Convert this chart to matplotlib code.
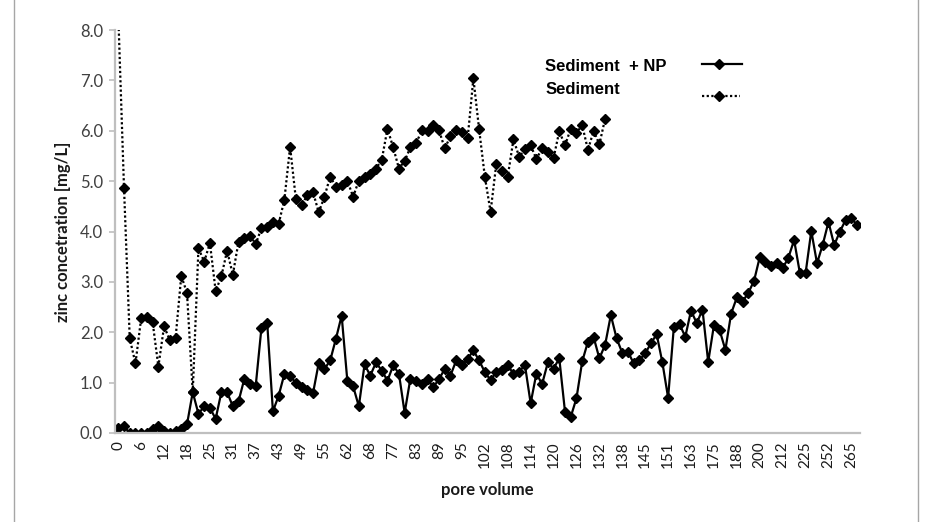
import matplotlib
matplotlib.use("Agg")
import matplotlib.pyplot as plt
from matplotlib.lines import Line2D
import numpy as np

# pore volume labels shown on the axis (every 4th sample)
pv_labels = ["0", "6", "12", "18", "25", "31", "37", "43", "49", "55", "62", "68",
             "77", "83", "89", "95", "102", "108", "114", "120", "126", "132", "138",
             "145", "151", "163", "175", "188", "200", "212", "225", "252", "265"]

# zinc concentration [mg/L], Sediment + NP
sed_np = [0.10, 0.13, 0.00, 0.00, 0.00, 0.00, 0.07, 0.13, 0.03, 0.00, 0.03, 0.08, 0.17,
          0.81, 0.38, 0.53, 0.50, 0.28, 0.81, 0.81, 0.53, 0.63, 1.07, 0.98, 0.94,
          2.09, 2.19, 0.43, 0.74, 1.17, 1.14, 0.99, 0.91, 0.86, 0.79,
          1.39, 1.27, 1.44, 1.87, 2.33, 1.03, 0.93, 0.53, 1.36, 1.14, 1.40, 1.24, 1.04, 1.34, 1.18,
          0.40, 1.08, 1.03, 0.97, 1.07, 0.91, 1.07, 1.27, 1.14, 1.44, 1.34, 1.47, 1.64,
          1.44, 1.21, 1.05, 1.21, 1.25, 1.35,
          1.17, 1.22, 1.35, 0.59, 1.18, 0.97, 1.40, 1.28, 1.48, 0.42, 0.32, 0.69, 1.42,
          1.81, 1.90, 1.48, 1.75, 2.34, 1.88, 1.59, 1.61, 1.38, 1.45, 1.58, 1.78, 1.96,
          1.40, 0.70, 2.10, 2.16, 1.91, 2.43, 2.18, 2.45, 1.41, 2.14, 2.04, 1.65, 2.37,
          2.69, 2.61, 2.78, 3.02, 3.49, 3.40, 3.31, 3.38, 3.27, 3.48, 3.83, 3.18, 3.17,
          4.01, 3.37, 3.74, 4.19, 3.73, 4.00, 4.23, 4.26, 4.13]

# zinc concentration [mg/L], Sediment only
sed = [8.3, 4.87, 1.88, 1.38, 2.28, 2.30, 2.20, 1.32, 2.12, 1.84, 1.88, 3.12, 2.78,
       0.81, 3.67, 3.40, 3.77, 2.82, 3.11, 3.62, 3.14,
       3.80, 3.87, 3.92, 3.75, 4.07, 4.08, 4.18, 4.15, 4.63, 5.68, 4.65, 4.52, 4.72, 4.78, 4.38,
       4.69, 5.09, 4.89, 4.92, 5.01, 4.69, 5.01, 5.09, 5.14, 5.25,
       5.42, 6.04, 5.67, 5.25, 5.40, 5.67, 5.75, 6.01, 5.99, 6.12,
       6.01, 5.65, 5.89, 6.01, 5.98, 5.85, 7.04, 6.03, 5.09, 4.39,
       5.34, 5.20, 5.09, 5.83, 5.48, 5.63, 5.71, 5.44, 5.65, 5.58,
       5.46, 5.99, 5.71, 6.04, 5.96, 6.11, 5.62, 6.00, 5.73, 6.24]

tick_font = "Lato"
grey = "#BFBFBF"

fig = plt.figure(figsize=(9.27, 5.22), dpi=100)
fig.patch.set_facecolor("white")
ax = fig.add_axes([0.1245, 0.1705, 0.8032, 0.772])

x_np = np.arange(len(sed_np))
x_sed = np.arange(len(sed))

ax.plot(x_sed, sed, color="black", lw=1.6, ls=(0, (1, 1.1)),
        marker="D", ms=5.5, mfc="black", mec="black")
ax.plot(x_np, sed_np, color="black", lw=1.6, ls="-",
        marker="D", ms=5.5, mfc="black", mec="black")

ax.set_xlim(-0.5, len(sed_np) - 0.5)
ax.set_ylim(0, 8)
ax.set_yticks(np.arange(0, 9, 1))
ax.set_yticklabels(["%.1f" % v for v in np.arange(0, 9, 1)],
                   fontfamily=tick_font, fontsize=12, color="#404040")
ax.set_xticks(np.arange(0, len(sed_np), 4)[:len(pv_labels)])
ax.set_xticklabels(pv_labels, rotation=90, fontfamily=tick_font,
                   fontsize=11, color="#1a1a1a")
ax.tick_params(axis="x", length=0, pad=6)
ax.tick_params(axis="y", length=4, width=1.2, color=grey, pad=5)

for s in ["top", "right"]:
    ax.spines[s].set_visible(False)
for s in ["left", "bottom"]:
    ax.spines[s].set_color(grey)
    ax.spines[s].set_linewidth(1.6)

ax.set_ylabel("zinc concetration [mg/L]", fontfamily=tick_font,
              fontweight="bold", fontsize=12, color="#1a1a1a")
ax.yaxis.set_label_coords(-0.070, 0.5)
ax.yaxis.label.set_va("center")
ax.set_xlabel("pore volume", fontfamily=tick_font, fontweight="bold",
              fontsize=12, color="#1a1a1a")
ax.xaxis.set_label_coords(0.5, -0.141)
ax.xaxis.label.set_va("center")

# legend, placed by hand
fig.text(0.588, 0.8722, "Sediment  + NP", fontfamily="Liberation Sans",
         fontweight="bold", fontsize=12, va="center", ha="left")
fig.text(0.588, 0.829, "Sediment", fontfamily="Liberation Sans",
         fontweight="bold", fontsize=12, va="center", ha="left")
fig.add_artist(Line2D([0.757, 0.800], [0.8774, 0.8774], color="black", lw=1.6,
                      transform=fig.transFigure))
fig.add_artist(Line2D([0.7756], [0.8774], color="black", marker="D", ms=5.5,
                      transform=fig.transFigure))
fig.add_artist(Line2D([0.757, 0.798], [0.816, 0.816], color="black", lw=1.6,
                      ls=(0, (1, 1.1)), transform=fig.transFigure))
fig.add_artist(Line2D([0.7756], [0.816], color="black", marker="D", ms=5.5,
                      transform=fig.transFigure))

# outer frame lines of the original chart
fig.add_artist(Line2D([0.0151, 0.0151], [0, 1], color="#A6A6A6", lw=1,
                      transform=fig.transFigure))
fig.add_artist(Line2D([0.990, 0.990], [0, 1], color="#A6A6A6", lw=1,
                      transform=fig.transFigure))

fig.savefig("out.png", dpi=100, facecolor="white")
